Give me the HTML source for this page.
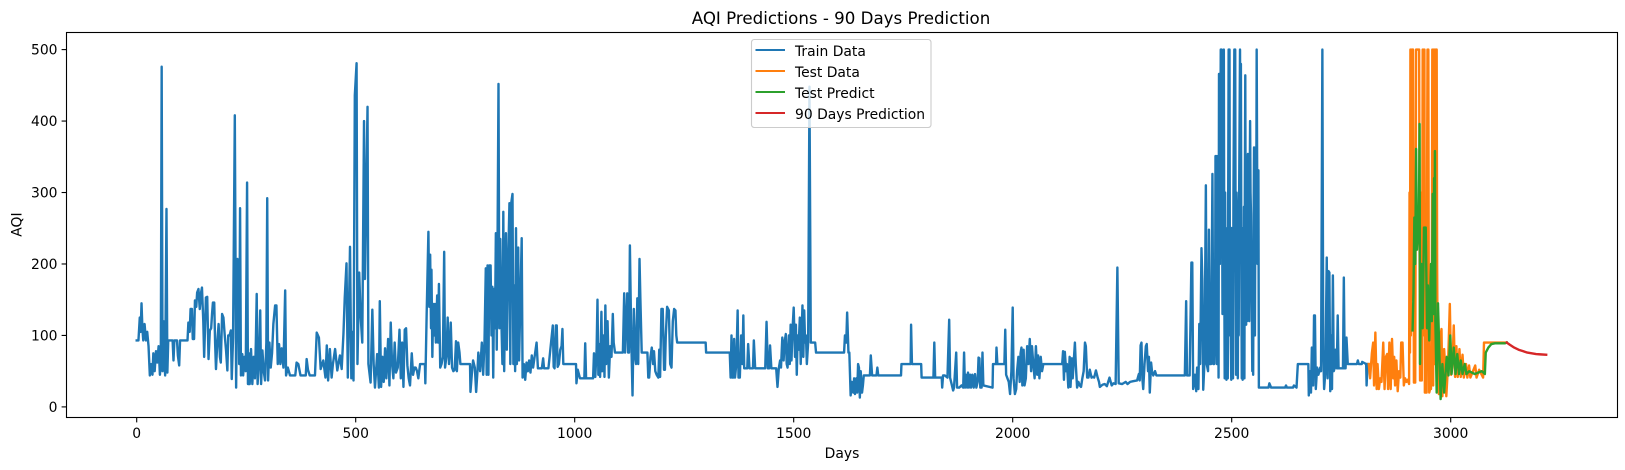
<!DOCTYPE html>
<html lang="en">
<head>
<meta charset="utf-8">
<title>AQI Predictions - 90 Days Prediction</title>
<style>
html,body{margin:0;padding:0;background:#fff;width:1625px;height:470px;overflow:hidden}
svg{display:block}
text{font-family:"DejaVu Sans","Liberation Sans",sans-serif;fill:#000}
</style>
</head>
<body>
<svg id="chart" xmlns="http://www.w3.org/2000/svg" width="1625" height="470" viewBox="0 0 1625 470">
  <rect x="0" y="0" width="1625" height="470" fill="#fff"/>
  <text x="841" y="24" font-size="16.67" text-anchor="middle">AQI Predictions - 90 Days Prediction</text>
  <text x="842" y="458" font-size="13.89" text-anchor="middle">Days</text>
  <text x="0" y="0" font-size="13.89" text-anchor="middle" transform="translate(21.5 224.6) rotate(-90)">AQI</text>
  <g id="series"></g>
  <g id="ticks"></g>
  <rect x="66.5" y="32.5" width="1551" height="385" fill="none" stroke="#000" stroke-width="1.1"/>
  <g>
    <rect x="751.5" y="39.5" width="179.5" height="88" rx="2.8" fill="#fff" fill-opacity="0.8" stroke="#ccc" stroke-width="1.1"/>
    <g>
      <line x1="755.5" x2="785" y1="50" y2="50" stroke="#1f77b4" stroke-width="2.08"/>
      <text x="795" y="56" font-size="13.89">Train Data</text>
    </g>
    <g>
      <line x1="755.5" x2="785" y1="71" y2="71" stroke="#ff7f0e" stroke-width="2.08"/>
      <text x="795" y="77" font-size="13.89">Test Data</text>
    </g>
    <g>
      <line x1="755.5" x2="785" y1="92" y2="92" stroke="#2ca02c" stroke-width="2.08"/>
      <text x="795" y="98" font-size="13.89">Test Predict</text>
    </g>
    <g>
      <line x1="755.5" x2="785" y1="113" y2="113" stroke="#d62728" stroke-width="2.08"/>
      <text x="795" y="119" font-size="13.89">90 Days Prediction</text>
    </g>
  </g>
</svg>
<script>
const xTickValues = [0, 500, 1000, 1500, 2000, 2500, 3000];
const yTickValues = [0, 100, 200, 300, 400, 500];

const trainDays = [
0,4,7,9,11,13,15,18,21,24,
27,30,33,36,38,41,44,47,50,53,
55,57,59,61,63,65,68,70,72,76,
82,84,86,92,94,97,99,101,116,118,
121,123,126,128,131,133,136,138,141,144,
147,149,152,154,156,158,161,164,167,170,
172,174,177,179,181,184,187,190,192,195,
198,201,204,207,209,212,215,217,220,224,
227,230,232,234,236,238,241,243,246,249,
252,254,256,258,261,264,267,270,272,274,
276,279,282,284,287,290,293,296,298,300,
303,306,309,312,316,319,322,325,328,331,
335,339,341,345,350,356,362,365,369,374,
380,386,388,391,395,402,407,411,416,420,
426,431,434,437,441,445,448,453,458,464,
468,472,475,479,482,487,490,493,495,498,
502,504,508,511,515,519,521,527,529,534,
538,541,544,549,553,555,558,561,564,567,
570,574,577,580,583,586,589,592,596,600,
603,606,609,612,615,618,621,624,628,631,
634,637,640,643,647,658,659,662,666,668,
670,672,673,675,677,679,681,683,686,688,
690,693,696,699,702,704,707,710,713,715,
717,720,723,726,729,731,734,737,739,761,
762,765,768,772,775,778,780,784,788,791,
794,797,799,801,803,805,808,810,812,814,
816,818,820,822,824,826,828,830,832,835,
837,839,841,843,845,848,851,853,855,858,
860,862,864,866,868,871,873,876,879,881,
884,887,890,893,896,899,902,905,908,913,
916,925,928,930,940,950,952,954,957,959,
961,964,967,970,972,974,1003,1004,1007,1012,
1022,1024,1026,1042,1044,1047,1050,1052,1054,1056,
1058,1061,1063,1066,1068,1070,1072,1075,1078,1081,
1084,1087,1089,1092,1110,1113,1115,1120,1122,1124,
1126,1129,1132,1135,1138,1140,1143,1145,1148,1150,
1153,1166,1168,1170,1173,1176,1179,1181,1184,1187,
1191,1193,1195,1198,1201,1204,1206,1208,1211,1215,
1218,1221,1224,1227,1230,1232,1234,1299,1300,1354,
1356,1358,1360,1362,1364,1366,1369,1372,1374,1377,
1380,1383,1385,1387,1394,1396,1399,1407,1409,1412,
1435,1438,1441,1444,1446,1449,1460,1463,1466,1469,
1471,1474,1477,1479,1482,1484,1486,1489,1491,1493,
1495,1497,1500,1503,1505,1507,1509,1511,1514,1516,
1518,1520,1522,1524,1526,1528,1530,1533,1536,1539,
1549,1551,1615,1617,1620,1622,1625,1627,1630,1633,
1636,1638,1640,1643,1645,1647,1649,1651,1653,1656,
1658,1660,1674,1676,1679,1682,1689,1691,1693,1745,
1746,1767,1768,1770,1791,1792,1819,1821,1823,1838,
1839,1841,1845,1851,1855,1857,1864,1866,1871,1873,
1878,1883,1887,1889,1891,1893,1896,1898,1900,1903,
1905,1908,1911,1914,1917,1920,1922,1924,1926,1929,
1931,1933,1954,1955,1962,1963,1965,1981,1983,1985,
1988,1991,1994,1997,2000,2002,2005,2008,2010,2013,
2016,2018,2020,2022,2025,2027,2030,2033,2036,2039,
2042,2044,2047,2050,2053,2056,2058,2061,2064,2067,
2070,2113,2115,2117,2119,2122,2124,2127,2130,2132,
2135,2137,2139,2142,2144,2147,2150,2153,2156,2159,
2162,2165,2167,2170,2173,2176,2180,2183,2186,2190,
2194,2197,2199,2205,2210,2215,2221,2226,2230,2235,
2239,2242,2250,2258,2262,2268,2275,2284,2288,2290,
2292,2294,2296,2298,2301,2304,2306,2309,2311,2313,
2316,2318,2321,2325,2328,2332,2393,2396,2398,2404,
2408,2410,2412,2416,2419,2421,2424,2426,2428,2431,
2433,2435,2438,2441,2443,2446,2448,2450,2453,2456,
2458,2460,2462,2463,2465,2466,2468,2469,2470,2471,
2472,2473,2475,2477,2478,2479,2480,2482,2483,2484,
2485,2486,2487,2488,2489,2490,2491,2492,2493,2495,
2496,2497,2498,2499,2500,2501,2502,2503,2504,2506,
2508,2509,2510,2511,2512,2513,2514,2515,2516,2517,
2519,2520,2521,2522,2523,2524,2525,2526,2527,2528,
2529,2530,2531,2532,2533,2534,2535,2536,2537,2538,
2539,2540,2541,2542,2543,2544,2545,2546,2547,2548,
2549,2550,2551,2552,2553,2554,2555,2556,2557,2558,
2559,2560,2561,2562,2580,2584,2586,2590,2622,2624,
2626,2640,2642,2648,2651,
2675,2676,2679,2681,2683,2686,2688,2690,2692,2695,
2698,2702,2704,2707,2709,2711,2714,2717,2719,2721,
2723,2725,2727,2729,2731,2733,2735,2737,2740,2742,
2744,2750,2754,2756,2758,2760,2762,2765,2786,2788,
2790,2797,2798,2807,2808,2810
];
const trainAqi = [
93,93,125,105,145,110,93,116,93,105,
85,44,60,45,75,50,78,62,85,45,
60,476,50,120,65,44,277,48,93,93,
93,65,93,93,72,58,93,93,93,118,
105,137,137,95,95,149,140,160,165,137,
160,167,120,70,110,153,154,67,107,110,
130,146,146,90,53,90,116,70,62,130,
125,100,79,51,100,100,107,39,97,408,
27,207,205,60,278,44,74,44,70,50,
314,32,75,32,81,32,70,40,90,158,
32,60,135,32,79,50,37,90,292,37,
90,55,75,116,142,142,60,88,60,82,
55,163,44,55,44,44,44,62,60,44,
44,44,67,52,44,44,44,104,97,53,
65,41,86,37,81,41,60,81,51,72,
53,102,153,201,41,224,40,105,37,436,
481,60,188,130,90,400,179,420,60,34,
136,60,27,74,27,148,28,70,35,82,
40,95,30,118,60,40,90,48,55,108,
40,90,28,108,110,58,40,30,75,45,
55,55,50,40,60,60,33,130,245,140,
213,110,192,70,144,100,144,90,156,90,
172,55,60,70,217,55,70,125,60,80,
118,55,50,52,92,50,90,76,60,60,
21,45,65,55,21,50,76,50,90,45,
90,194,45,198,45,198,198,100,168,41,
165,110,243,80,243,452,110,235,135,60,
273,50,150,243,80,200,285,60,285,298,
60,170,50,250,60,223,65,150,236,41,
60,38,62,50,65,48,72,55,68,90,
54,54,68,54,54,114,56,54,114,114,
56,60,80,85,109,60,60,33,52,40,
40,89,40,40,75,42,80,150,45,88,
42,133,50,100,42,142,60,120,41,85,
70,130,90,76,76,159,76,159,76,76,
226,100,16,137,70,60,152,60,207,150,
76,76,41,41,70,83,60,78,50,45,
41,80,42,137,137,52,52,100,140,135,
60,55,120,137,135,100,90,90,76,76,
41,100,41,41,95,41,60,135,41,41,
100,60,128,54,54,88,54,54,93,54,
54,119,54,54,86,54,54,28,54,65,
55,97,65,90,102,60,55,100,60,115,
65,105,139,70,115,45,100,80,125,60,
100,142,70,135,90,100,60,90,448,90,
90,76,76,100,90,132,76,76,16,35,
20,40,18,40,20,60,55,13,50,20,
30,44,44,72,44,44,44,55,44,44,
60,60,115,60,60,41,41,90,41,41,
27,44,44,41,122,41,23,27,76,27,
27,30,27,76,27,45,27,48,27,45,
27,45,27,46,27,35,69,68,27,27,
76,30,27,60,60,83,60,60,108,45,
40,35,18,50,139,40,18,25,50,70,
35,75,83,30,80,30,40,85,60,95,
50,85,60,40,85,45,72,40,70,50,
60,60,78,38,77,50,60,27,70,28,
68,40,60,90,60,27,35,30,28,40,
50,90,85,41,41,52,41,42,41,51,
41,35,28,31,32,29,41,30,33,32,
195,33,32,35,32,35,36,37,46,37,
86,90,40,25,60,85,88,50,70,20,
62,50,44,50,44,44,44,148,44,44,
202,202,25,45,22,55,25,116,60,222,
177,24,65,310,60,50,248,60,60,326,
60,60,110,351,351,60,351,200,41,466,
466,200,500,500,300,130,400,500,200,40,
300,110,250,38,190,150,40,300,500,500,
100,251,90,38,250,200,150,40,300,500,
500,200,45,300,275,100,40,250,100,300,
500,300,480,200,40,250,38,200,120,280,
40,300,464,200,115,250,120,300,354,180,
150,120,300,400,300,270,180,130,50,100,
45,250,363,180,100,300,363,260,500,350,
200,300,331,27,27,27,33,27,27,30,
27,27,30,27,60,
60,16,50,20,83,30,128,128,25,55,
45,55,50,500,80,25,50,209,40,190,
188,22,100,25,184,50,54,80,54,128,
54,54,54,181,54,54,97,60,60,65,
60,60,63,60,30,60
];

const testDays = [
2813,2816,2820,2823,2825,2828,2831,2833,2836,2839,
2842,2846,2849,2852,2855,2857,2860,2863,2866,2869,
2871,2873,2876,2879,2882,2885,2887,2890,2893,2896,
2899,2902,2905,2906,2907,2908,2909,2910,2911,2912,
2913,2914,2916,2918,2919,2921,2928,2929,2930,2931,
2932,2934,2935,2936,2937,2938,2939,2940,2941,2943,
2945,2946,2947,2948,2949,2950,2951,2953,2955,2957,
2958,2959,2960,2961,2962,2963,2964,2965,2966,2967,
2968,2969,2970,2973,
2975,2977,2979,2981,2985,2987,2990,2994,2998,3001,
3004,3007,3010,3013,3016,3020,3023,3027,3030,3035,
3038,3042,3045,3056,3059,3065,3074,3076,3128
];
const testAqi = [
60,40,75,90,30,104,25,60,25,40,
35,90,25,70,74,25,90,25,95,40,
70,30,65,22,50,41,90,90,30,40,
35,38,32,300,76,500,100,500,150,500,
500,500,34,34,34,500,500,200,37,300,
37,37,200,500,200,500,100,500,20,20,
20,300,500,250,500,100,20,25,25,200,
500,200,30,500,100,500,60,500,200,500,
500,200,90,18,
60,100,109,15,81,60,15,60,144,45,
60,114,42,85,42,81,42,73,41,60,
41,58,41,58,41,52,41,90,90
];

const predictDays = [
2913,2915,2917,2919,2921,2923,2925,2927,2929,2930,
2933,2936,2939,2943,2946,2948,2951,2955,2957,2959,
2960,2961,2962,2963,2964,2965,2968,2971,2977,2981,
2985,2991,2995,2999,3002,3007,3011,3015,3019,3023,
3027,3032,3036,3042,3055,3071,3078,3080,3086,3093,
3101,3124,3128
];
const predictAqi = [
107,160,265,200,361,220,240,230,396,60,
200,110,251,251,110,170,93,200,120,298,
250,130,320,150,358,120,20,145,11,60,
20,70,44,100,46,83,46,74,46,65,
46,60,46,50,46,50,46,76,83,88,
89,89,90
];

const forecastDays = [3128,3135,3145,3155,3165,3175,3185,3195,3205,3218];
const forecastAqi = [90,87,83,80,78,76,75,74,73.5,73];

function xScale(day) { return 136.7 + day * 0.438; }
function yScale(aqi) { return 406.9 - aqi * 0.7146; }

const NS = 'http://www.w3.org/2000/svg';
const seriesLayer = document.getElementById('series');
const ticksLayer = document.getElementById('ticks');

function linePath(days, values) {
  let d = '';
  const n = Math.min(days.length, values.length);
  for (let i = 0; i < n; i++) {
    d += (i ? 'L' : 'M') + xScale(days[i]).toFixed(2) + ' ' + yScale(values[i]).toFixed(2);
  }
  return d;
}
function makeLine(days, values, color) {
  const p = document.createElementNS(NS, 'path');
  p.setAttribute('d', linePath(days, values));
  p.setAttribute('fill', 'none');
  p.setAttribute('stroke', color);
  p.setAttribute('stroke-width', '2.4');
  p.setAttribute('stroke-linejoin', 'round');
  p.setAttribute('stroke-linecap', 'square');
  seriesLayer.appendChild(p);
  return p;
}

const trainLine = makeLine(trainDays, trainAqi, '#1f77b4');


const testLine = makeLine(testDays, testAqi, '#ff7f0e');


const predictLine = makeLine(predictDays, predictAqi, '#2ca02c');


const forecastLine = makeLine(forecastDays, forecastAqi, '#d62728');



xTickValues.forEach(function (v) {
  const x = xScale(v);
  const mark = document.createElementNS(NS, 'line');
  mark.setAttribute('x1', x);
  mark.setAttribute('x2', x);
  mark.setAttribute('y1', 417.5);
  mark.setAttribute('y2', 422.4);
  mark.setAttribute('stroke', '#000');
  mark.setAttribute('stroke-width', '1.1');
  
  
  ticksLayer.appendChild(mark);
  const label = document.createElementNS(NS, 'text');
  label.setAttribute('x', x);
  label.setAttribute('y', 438);
  label.setAttribute('font-size', '13.89');
  label.setAttribute('text-anchor', 'middle');
  
  
  label.textContent = v;
  ticksLayer.appendChild(label);
});

yTickValues.forEach(function (v) {
  const y = yScale(v);
  const mark = document.createElementNS(NS, 'line');
  mark.setAttribute('x1', 61.6);
  mark.setAttribute('x2', 66.5);
  mark.setAttribute('y1', y);
  mark.setAttribute('y2', y);
  mark.setAttribute('stroke', '#000');
  mark.setAttribute('stroke-width', '1.1');
  
  
  ticksLayer.appendChild(mark);
  const label = document.createElementNS(NS, 'text');
  label.setAttribute('x', 57.5);
  label.setAttribute('y', y + 5);
  label.setAttribute('font-size', '13.89');
  label.setAttribute('text-anchor', 'end');
  
  
  label.textContent = v;
  ticksLayer.appendChild(label);
});
</script>
</body>
</html>
